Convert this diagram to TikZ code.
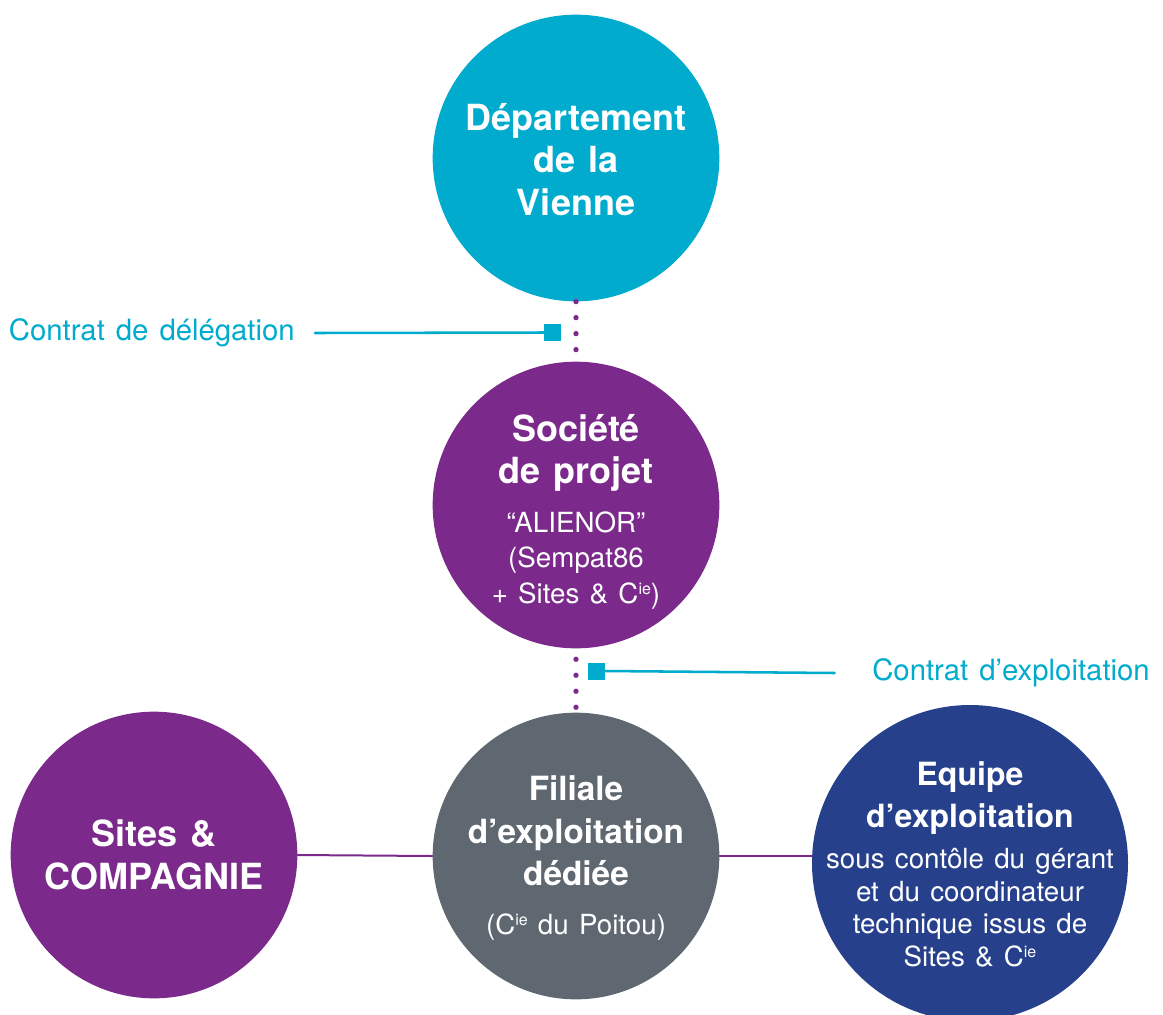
\documentclass[tikz,border=0pt]{standalone}
\usepackage{fontspec}
\setmainfont{TeX Gyre Heros}[WordSpace=1.35]
\definecolor{vcyan}{HTML}{00ABCE}
\definecolor{vpurple}{HTML}{7B2A8C}
\definecolor{vgray}{HTML}{5F6870}
\definecolor{vnavy}{HTML}{26408C}
\newcommand{\headfont}[1]{\fontsize{#1}{32}\selectfont\bfseries\spaceskip=.37em\xspaceskip=.37em\relax}
\newcommand{\bodyfont}{\fontsize{20.8}{24.5}\selectfont\spaceskip=.37em\xspaceskip=.37em\relax}
\newcommand{\cie}{C\raisebox{0.62ex}{\fontsize{12}{12}\selectfont ie}}
\tikzset{
  disc/.style={circle, minimum size=215pt, inner sep=0pt},
  inside/.style={text=white, text width=230pt, align=center, inner sep=0pt},
  lbl/.style={text=vcyan, font=\fontsize{22}{26}\selectfont, inner sep=0pt},
  marker/.style={fill=vcyan, minimum size=12.75pt, inner sep=0pt},
  cline/.style={vcyan, line width=1.9pt},
  dots/.style={vpurple, line width=4pt, dash pattern=on 0pt off 12pt},
  link/.style={vpurple, line width=1.5pt}
}
\begin{document}
\begin{tikzpicture}[x=0.75pt, y=-0.75pt, line cap=round, line join=round]
	\useasboundingbox (0,0) rectangle (1163,1014);
	% circles
	\node[disc, fill=vcyan] (dep) at (576,158) {};
	\node[disc, fill=vpurple] (soc) at (576,505) {};
	\node[disc, fill=vgray] (fil) at (576,856) {};
	\node[disc, fill=vpurple] (sites) at (154,855) {};
	\node[disc, fill=vnavy, minimum size=237pt] (equ) at (970,863) {};
	% texts
	\node[inside] at ([yshift=-1pt]dep) {\headfont{27}D\'epartement\\de la\\Vienne\par};
	\node[inside] at ([yshift=-5pt]soc) {{\headfont{27}Soci\'et\'e\\de projet\par}\vspace{10pt}
		{\bodyfont\baselineskip=26.5pt ``ALIENOR''\\(Sempat86\\+ Sites \& \cie)\par}};
	\node[inside] at ([yshift=-1.5pt]fil) {{\headfont{25}Filiale\\d'exploitation\\d\'edi\'ee\par}\vspace{12pt}
		{\bodyfont (\cie\ du Poitou)\par}};
	\node[inside] at (sites) {\headfont{27}Sites \&\\COMPAGNIE\par};
	\node[inside] at ([yshift=-1pt]equ) {{\headfont{24}Equipe\\d'exploitation\par}\vspace{6pt}
		{\bodyfont sous cont\^ole du g\'erant\\et du coordinateur\\technique issus de\\Sites \& \cie\par}};
	% contracts
	\draw[dots] (dep.south) -- (soc.north);
	\draw[dots, dash phase=4pt] (soc.south) -- (fil.north);
	\node[marker] (sqa) at (552.5,332.5) {};
	\node[marker] (sqb) at (596,671) {};
	\node[lbl, anchor=east] (deleg) at (295,333) {Contrat de d\'el\'egation};
	\node[lbl, anchor=west] (exploit) at (872,673) {Contrat d'exploitation};
	\draw[cline] ([xshift=15pt]deleg.east) -- (sqa.west);
	\draw[cline] (sqb.east) -- ([xshift=-28pt]exploit.west);
	% links
	\draw[link] (sites.east) -- (fil.west);
	\draw[link] (fil.east) -- (fil.east -| equ.west);
\end{tikzpicture}
\end{document}
